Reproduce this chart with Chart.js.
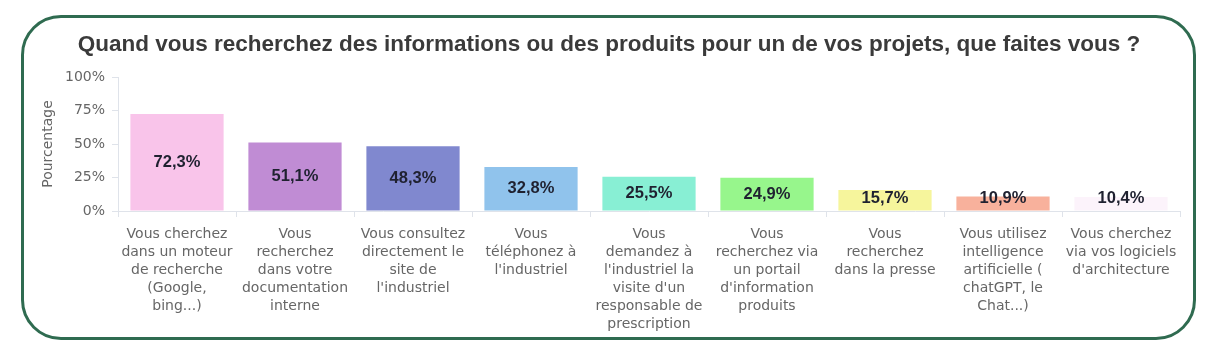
<!DOCTYPE html>
<html><head><meta charset="utf-8">
<script src="https://cdn.jsdelivr.net/npm/chart.js@4"></script>
<style>
html,body{margin:0;padding:0;background:#fff;}
#wrap{position:relative;width:1219px;height:352px;}
#frame{position:absolute;left:21px;top:15px;width:1169px;height:319px;border:3px solid #2f6b50;border-radius:40px;pointer-events:none;}
canvas{position:absolute;left:0;top:0;}
</style></head>
<body><div id="wrap"><canvas id="c" width="1219" height="352"></canvas><div id="frame"></div></div>
<script>
const titleText = "Quand vous recherchez des informations ou des produits pour un de vos projets, que faites vous ?";
const categories = [
  ["Vous cherchez","dans un moteur","de recherche","(Google,","bing...)"],
  ["Vous","recherchez","dans votre","documentation","interne"],
  ["Vous consultez","directement le","site de","l'industriel"],
  ["Vous","téléphonez à","l'industriel"],
  ["Vous","demandez à","l'industriel la","visite d'un","responsable de","prescription"],
  ["Vous","recherchez via","un portail","d'information","produits"],
  ["Vous","recherchez","dans la presse"],
  ["Vous utilisez","intelligence","artificielle (","chatGPT, le","Chat...)"],
  ["Vous cherchez","via vos logiciels","d'architecture"]
];
const values = [72.3, 51.1, 48.3, 32.8, 25.5, 24.9, 15.7, 10.9, 10.4];
const barColors = ["#f9c4ea","#c08cd4","#8088cf","#90c3ec","#88efd4","#97f68c","#f6f59c","#f8b19c","#fcf3fb"];
const yTicks = [0, 25, 50, 75, 100];
const yTitle = "Pourcentage";

const fmt = v => v.toFixed(1).replace('.', ',') + '%';

const valueLabels = {
  id: 'valueLabels',
  afterDatasetsDraw(chart) {
    const ctx = chart.ctx;
    const meta = chart.getDatasetMeta(0);
    ctx.save();
    ctx.font = 'bold 16.5px "Liberation Sans", Arial, sans-serif';
    ctx.fillStyle = '#1f2130';
    ctx.textAlign = 'center';
    ctx.textBaseline = 'middle';
    meta.data.forEach((el, i) => {
      const y = Math.min((el.y + el.base) / 2, el.base - 12);
      ctx.fillText(fmt(values[i]), el.x, y);
    });
    ctx.restore();
  }
};

new Chart(document.getElementById('c'), {
  type: 'bar',
  data: {
    labels: categories,
    datasets: [{ data: values, backgroundColor: barColors, borderWidth: 0, barPercentage: 0.79, categoryPercentage: 1 }]
  },
  plugins: [valueLabels],
  options: {
    responsive: false,
    animation: false,
    layout: { padding: { left: 38, right: 39, top: 31, bottom: 0 } },
    plugins: {
      legend: { display: false },
      tooltip: { enabled: false },
      title: {
        display: true, text: titleText, color: '#3a3a3a',
        font: { family: '"Liberation Sans", Arial, sans-serif', size: 22.5, weight: 'bold' },
        padding: { top: 0, bottom: 19 }
      }
    },
    scales: {
      x: {
        afterFit(s) { s.height = 141; },
        grid: { display: true, drawOnChartArea: false, drawTicks: true, tickLength: 6, color: '#dfe3ea', offset: true },
        border: { display: true, color: '#dfe3ea' },
        ticks: {
          autoSkip: false, maxRotation: 0, minRotation: 0, padding: 8, color: '#666',
          font: { family: '"DejaVu Sans", sans-serif', size: 14, lineHeight: '18px' }
        }
      },
      y: {
        min: 0, max: 100,
        afterFit(s) { s.width = 80; },
        afterBuildTicks(s) { s.ticks = yTicks.map(v => ({ value: v })); },
        grid: { display: true, drawOnChartArea: false, drawTicks: true, tickLength: 6, color: '#dfe3ea' },
        border: { display: true, color: '#dfe3ea' },
        title: { display: true, text: yTitle, color: '#666', padding: { top: 2, bottom: 0 },
          font: { family: '"DejaVu Sans", sans-serif', size: 14 } },
        ticks: { color: '#666', padding: 7, callback: v => v + '%',
          font: { family: '"DejaVu Sans", sans-serif', size: 14 } }
      }
    }
  }
});
</script></body></html>
